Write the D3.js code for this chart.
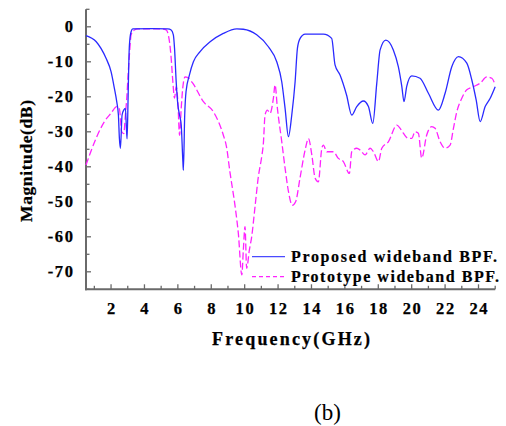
<!DOCTYPE html>
<html><head><meta charset="utf-8">
<script src="https://cdn.jsdelivr.net/npm/d3@7"></script>
<style>
html,body{margin:0;padding:0;background:#fff;}
svg{display:block;}
text{font-family:"Liberation Serif","Times New Roman",serif;}
</style></head>
<body><svg id="c" width="506" height="426"></svg>
<script>
const proposedFreq = [0.5,1.1,1.7,2.0,2.2,2.34,2.44,2.5,2.56,2.66,2.76,2.86,2.92,2.96,3.02,3.06,3.1,3.2,3.3,4.5,5.4,5.6,5.73,5.8,5.9,6.0,6.1,6.2,6.3,6.33,6.41,6.49,6.69,6.93,7.33,7.93,8.72,9.53,9.92,10.72,11.42,11.92,12.22,12.42,12.62,12.82,13.02,13.16,13.32,13.62,14.71,15.21,15.41,15.71,16.1,16.41,16.71,17.11,17.41,17.67,17.91,18.11,18.45,18.9,19.2,19.41,19.54,19.7,20.0,20.5,21.0,21.6,22.0,22.4,22.8,23.3,23.6,23.86,24.1,24.4,24.7,25.0];
const proposedDb   = [-2.5,-4.2,-9,-12.8,-17.6,-21.4,-25.2,-31.9,-34.7,-25.2,-23.8,-23.3,-29,-32,-20.4,-10.9,-5.2,-1.4,-0.6,-0.5,-0.6,-0.9,-2.3,-6.1,-15.7,-22.3,-25.2,-28,-38.5,-41,-25.2,-18.5,-13.8,-10,-7.1,-4.3,-1.9,-0.6,-0.7,-2.3,-5.7,-10,-15.7,-23.3,-31.4,-25.2,-15.7,-6.1,-3.3,-2.1,-2.1,-3.3,-10.9,-13.8,-19.5,-25.2,-22.8,-21.2,-22.8,-27.6,-16.1,-6.6,-3.8,-6.6,-11.4,-17.1,-21.4,-17.1,-14,-14.7,-19,-23.8,-19,-11.4,-8.5,-10.4,-15.2,-20.9,-27.1,-22.8,-20.4,-17.1];

const prototypeFreq = [0.5,1.1,1.6,2.0,2.34,2.5,2.64,2.76,2.86,2.94,3.02,3.1,3.2,3.4,3.6,5.0,5.3,5.5,5.6,5.7,5.8,5.9,6.0,6.1,6.2,6.29,6.43,6.6,6.89,7.53,8.13,8.72,8.9,9.13,9.43,9.62,9.83,9.92,10.02,10.12,10.28,10.42,10.62,10.82,11.02,11.12,11.22,11.36,11.52,11.72,11.82,11.96,12.22,12.42,12.62,12.85,13.05,13.32,13.62,13.82,14.02,14.22,14.41,14.62,14.71,14.92,15.31,15.61,15.91,16.27,16.41,16.71,16.91,17.21,17.51,17.71,18.01,18.21,18.61,19.11,19.31,19.5,19.8,20.0,20.2,20.4,20.6,20.9,21.2,21.4,21.7,22.0,22.3,22.5,22.7,23.0,23.3,23.7,24.1,24.5,24.8,25.0];
const prototypeDb   = [-39.5,-31.9,-27.1,-24.7,-22.8,-23.5,-30,-30.5,-25.2,-20.4,-13.8,-8,-2.3,-0.9,-0.6,-0.6,-0.9,-4.3,-9,-15.7,-20.4,-17.1,-21.4,-31,-23.3,-17.6,-14.3,-14.5,-16.1,-21.4,-24.3,-30.9,-34,-41.9,-51.4,-59,-70.9,-63.8,-57.1,-69,-63.8,-60,-51.4,-42.8,-37.1,-33.3,-25.2,-23.8,-24.7,-20.4,-16.6,-23.3,-32.8,-40.4,-47,-51,-50,-43,-35.2,-31.9,-36.6,-43.3,-44.3,-34.7,-33.8,-35.7,-35.7,-37.6,-38.5,-41.9,-35.7,-34.7,-35.2,-36.6,-34.7,-35.7,-38.5,-34.7,-32.8,-28.1,-29,-30.4,-31.9,-31.9,-30,-30.4,-37.5,-30.9,-28.5,-29,-32.8,-34.7,-33.8,-29,-24.3,-20.4,-18,-17.1,-16.1,-14.3,-14.7,-16.6];

const xTickValues = [2,4,6,8,10,12,14,16,18,20,22,24];
const yTickValues = [0,-10,-20,-30,-40,-50,-60,-70];
const seriesNames = ["Proposed wideband BPF.","Prototype wideband BPF."];

const svg = d3.select("#c");
const x = d3.scaleLinear().domain([0.5,25]).range([86,495.2]);
const y = d3.scaleLinear().domain([5,-75]).range([9.3,289.3]);
const axisColor = "#6a6a6a";

// spines
svg.append("line").attr("x1",x(0.5)).attr("x2",x(0.5)).attr("y1",y(5)).attr("y2",y(-75)+1)
  .attr("stroke",axisColor).attr("stroke-width",2);
svg.append("line").attr("x1",x(0.5)-1).attr("x2",x(25)).attr("y1",y(-75)).attr("y2",y(-75))
  .attr("stroke",axisColor).attr("stroke-width",2);

// x ticks (inward)
const xMinor = d3.range(1,26,1);
svg.append("g").selectAll("line").data(xMinor).join("line")
  .attr("x1",d=>x(d)).attr("x2",d=>x(d))
  .attr("y1",y(-75)).attr("y2",d=>y(-75)-(d%2===0?5:3.5))
  .attr("stroke",axisColor).attr("stroke-width",1.3);
// y ticks
const yMinor = d3.range(5,-76,-5);
svg.append("g").selectAll("line").data(yMinor).join("line")
  .attr("y1",d=>y(d)).attr("y2",d=>y(d))
  .attr("x1",x(0.5)).attr("x2",d=>x(0.5)+(d%10===0?5:3.5))
  .attr("stroke",axisColor).attr("stroke-width",1.3);

// tick labels
svg.append("g").selectAll("text").data(xTickValues).join("text")
  .attr("x",d=>x(d)+0.8).attr("y",313.5).attr("text-anchor","middle")
  .attr("font-size",16.5).attr("font-weight","bold").attr("letter-spacing",1.6)
  .attr("stroke","#000").attr("stroke-width",0.25)
  .text(d=>d);
svg.append("g").selectAll("text").data(yTickValues).join("text")
  .attr("x",74.5).attr("y",d=>y(d)+5.5).attr("text-anchor","end")
  .attr("font-size",16.5).attr("font-weight","bold").attr("letter-spacing",1.6)
  .attr("stroke","#000").attr("stroke-width",0.25)
  .text(d=>d);

// axis titles
svg.append("text").attr("transform","translate(31.5,161) rotate(-90)")
  .attr("text-anchor","middle").attr("font-size",17.5).attr("font-weight","bold")
  .attr("textLength",122).attr("lengthAdjust","spacing")
  .attr("stroke","#000").attr("stroke-width",0.25)
  .text("Magnitude(dB)");
svg.append("text").attr("x",212).attr("y",345)
  .attr("font-size",18).attr("font-weight","bold")
  .attr("textLength",158).attr("lengthAdjust","spacing")
  .attr("stroke","#000").attr("stroke-width",0.25)
  .text("Frequency(GHz)");
svg.append("text").attr("x",327.5).attr("y",419.5).attr("text-anchor","middle")
  .attr("font-size",23).text("(b)");

// curves
const line = d3.line().x(d=>x(d[0])).y(d=>y(d[1])).curve(d3.curveMonotoneX);
const protoData = prototypeFreq.map((f,i)=>[f,prototypeDb[i]]);
const propData = proposedFreq.map((f,i)=>[f,proposedDb[i]]);
svg.append("path").datum(protoData).attr("d",line).attr("fill","none")
  .attr("stroke","#ff22ff").attr("stroke-width",1.3).attr("stroke-dasharray","7,3");
svg.append("path").datum(propData).attr("d",line).attr("fill","none")
  .attr("stroke","#2a2aff").attr("stroke-width",1.3);

// legend
const legend = svg.append("g");
const legY = [256.7,276.7];
const legStyles = [{c:"#4a4aff",d:null},{c:"#ff22ff",d:"4,3"}];
seriesNames.forEach((name,i)=>{
  const l = legend.append("line").attr("x1",252).attr("x2",285).attr("y1",legY[i]).attr("y2",legY[i])
    .attr("stroke",legStyles[i].c).attr("stroke-width",1.3);
  if(legStyles[i].d) l.attr("stroke-dasharray",legStyles[i].d);
  legend.append("text").attr("x",291).attr("y",legY[i]+5.5)
    .attr("font-size",16).attr("font-weight","bold")
    .attr("textLength",i===0?206:208).attr("lengthAdjust","spacing")
    .attr("stroke","#000").attr("stroke-width",0.2)
    .text(name);
});
</script></body></html>
